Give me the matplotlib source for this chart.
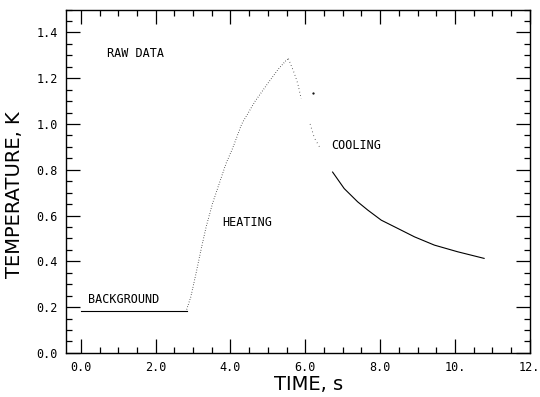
import numpy
import matplotlib
matplotlib.use("Agg")
import matplotlib.pyplot as plt
from matplotlib.ticker import MultipleLocator, FixedLocator, FixedFormatter

#------------------------------------------------------
# Data

# background level before heating
bg_t = [0.0, 2.83]
bg_T = [0.183, 0.183]

# heating (dotted)
heat_t = [2.83, 2.94, 3.08, 3.21, 3.35, 3.52, 3.70, 3.88, 4.06, 4.30, 4.66, 5.01, 5.28, 5.50, 5.55]
heat_T = [0.19, 0.245, 0.348, 0.449, 0.551, 0.653, 0.74, 0.827, 0.895, 1.00, 1.10, 1.18, 1.24, 1.28, 1.285]

# early cooling (sparse dots)
cool1_t = [5.55, 5.71, 5.80, 5.89]
cool1_T = [1.285, 1.22, 1.176, 1.11]
cool1b_t = [6.13, 6.24, 6.38]
cool1b_T = [1.00, 0.94, 0.90]
stray_t = [6.20]
stray_T = [1.135]

# late cooling (near solid)
cool2_t = [6.73, 7.04, 7.40, 7.67, 8.03, 8.47, 8.92, 9.45, 10.07, 10.78]
cool2_T = [0.79, 0.718, 0.66, 0.624, 0.58, 0.544, 0.507, 0.471, 0.442, 0.413]

xtick_vals = [0, 2, 4, 6, 8, 10, 12]
xtick_text = ["0.0", "2.0", "4.0", "6.0", "8.0", "10.", "12."]
ytick_vals = [0.0, 0.2, 0.4, 0.6, 0.8, 1.0, 1.2, 1.4]
ytick_text = ["0.0", "0.2", "0.4", "0.6", "0.8", "1.0", "1.2", "1.4"]

#------------------------------------------------------
fig = plt.figure(figsize=(5.4, 3.97), dpi=100)
ax = fig.add_axes([0.122, 0.111, 0.859, 0.865])

ax.plot(bg_t, bg_T, color="black", lw=0.8)
ax.plot(heat_t, heat_T, color="black", lw=0.7, dashes=(0.6, 2.0))
ax.plot(cool1_t, cool1_T, color="black", lw=0.7, dashes=(0.6, 3.0))
ax.plot(cool1b_t, cool1b_T, color="black", lw=0.7, dashes=(0.6, 3.5))
ax.plot(stray_t, stray_T, "k.", ms=1.2)
ax.plot(cool2_t, cool2_T, color="black", lw=0.8)

ax.set_xlim(-0.4, 12)
ax.set_ylim(0, 1.5)

mono = "DejaVu Sans Mono"
ax.xaxis.set_major_locator(FixedLocator(xtick_vals))
ax.xaxis.set_major_formatter(FixedFormatter(xtick_text))
ax.xaxis.set_minor_locator(MultipleLocator(0.5))
ax.yaxis.set_major_locator(FixedLocator(ytick_vals))
ax.yaxis.set_major_formatter(FixedFormatter(ytick_text))
ax.yaxis.set_minor_locator(MultipleLocator(0.05))
ax.tick_params(which="both", direction="in", top=True, right=True, width=0.9)
ax.tick_params(which="major", length=10, labelsize=8.5, pad=6)
ax.tick_params(which="minor", length=4)
for lab in ax.get_xticklabels() + ax.get_yticklabels():
    lab.set_family(mono)
for s in ax.spines.values():
    s.set_linewidth(1.0)

ax.set_xlabel("TIME, s", fontsize=14)
ax.set_ylabel("TEMPERATURE, K", fontsize=14)
ax.xaxis.set_label_coords(0.524, -0.065)
ax.yaxis.set_label_coords(-0.09, 0.46)

ax.text(0.71, 1.31, "RAW DATA", family=mono, fontsize=8.5, va="center")
ax.text(3.78, 0.57, "HEATING", family=mono, fontsize=8.5, va="center")
ax.text(6.70, 0.905, "COOLING", family=mono, fontsize=8.5, va="center")
ax.text(0.2, 0.235, "BACKGROUND", family=mono, fontsize=8.5, va="center")

fig.savefig("out.png", dpi=100)
